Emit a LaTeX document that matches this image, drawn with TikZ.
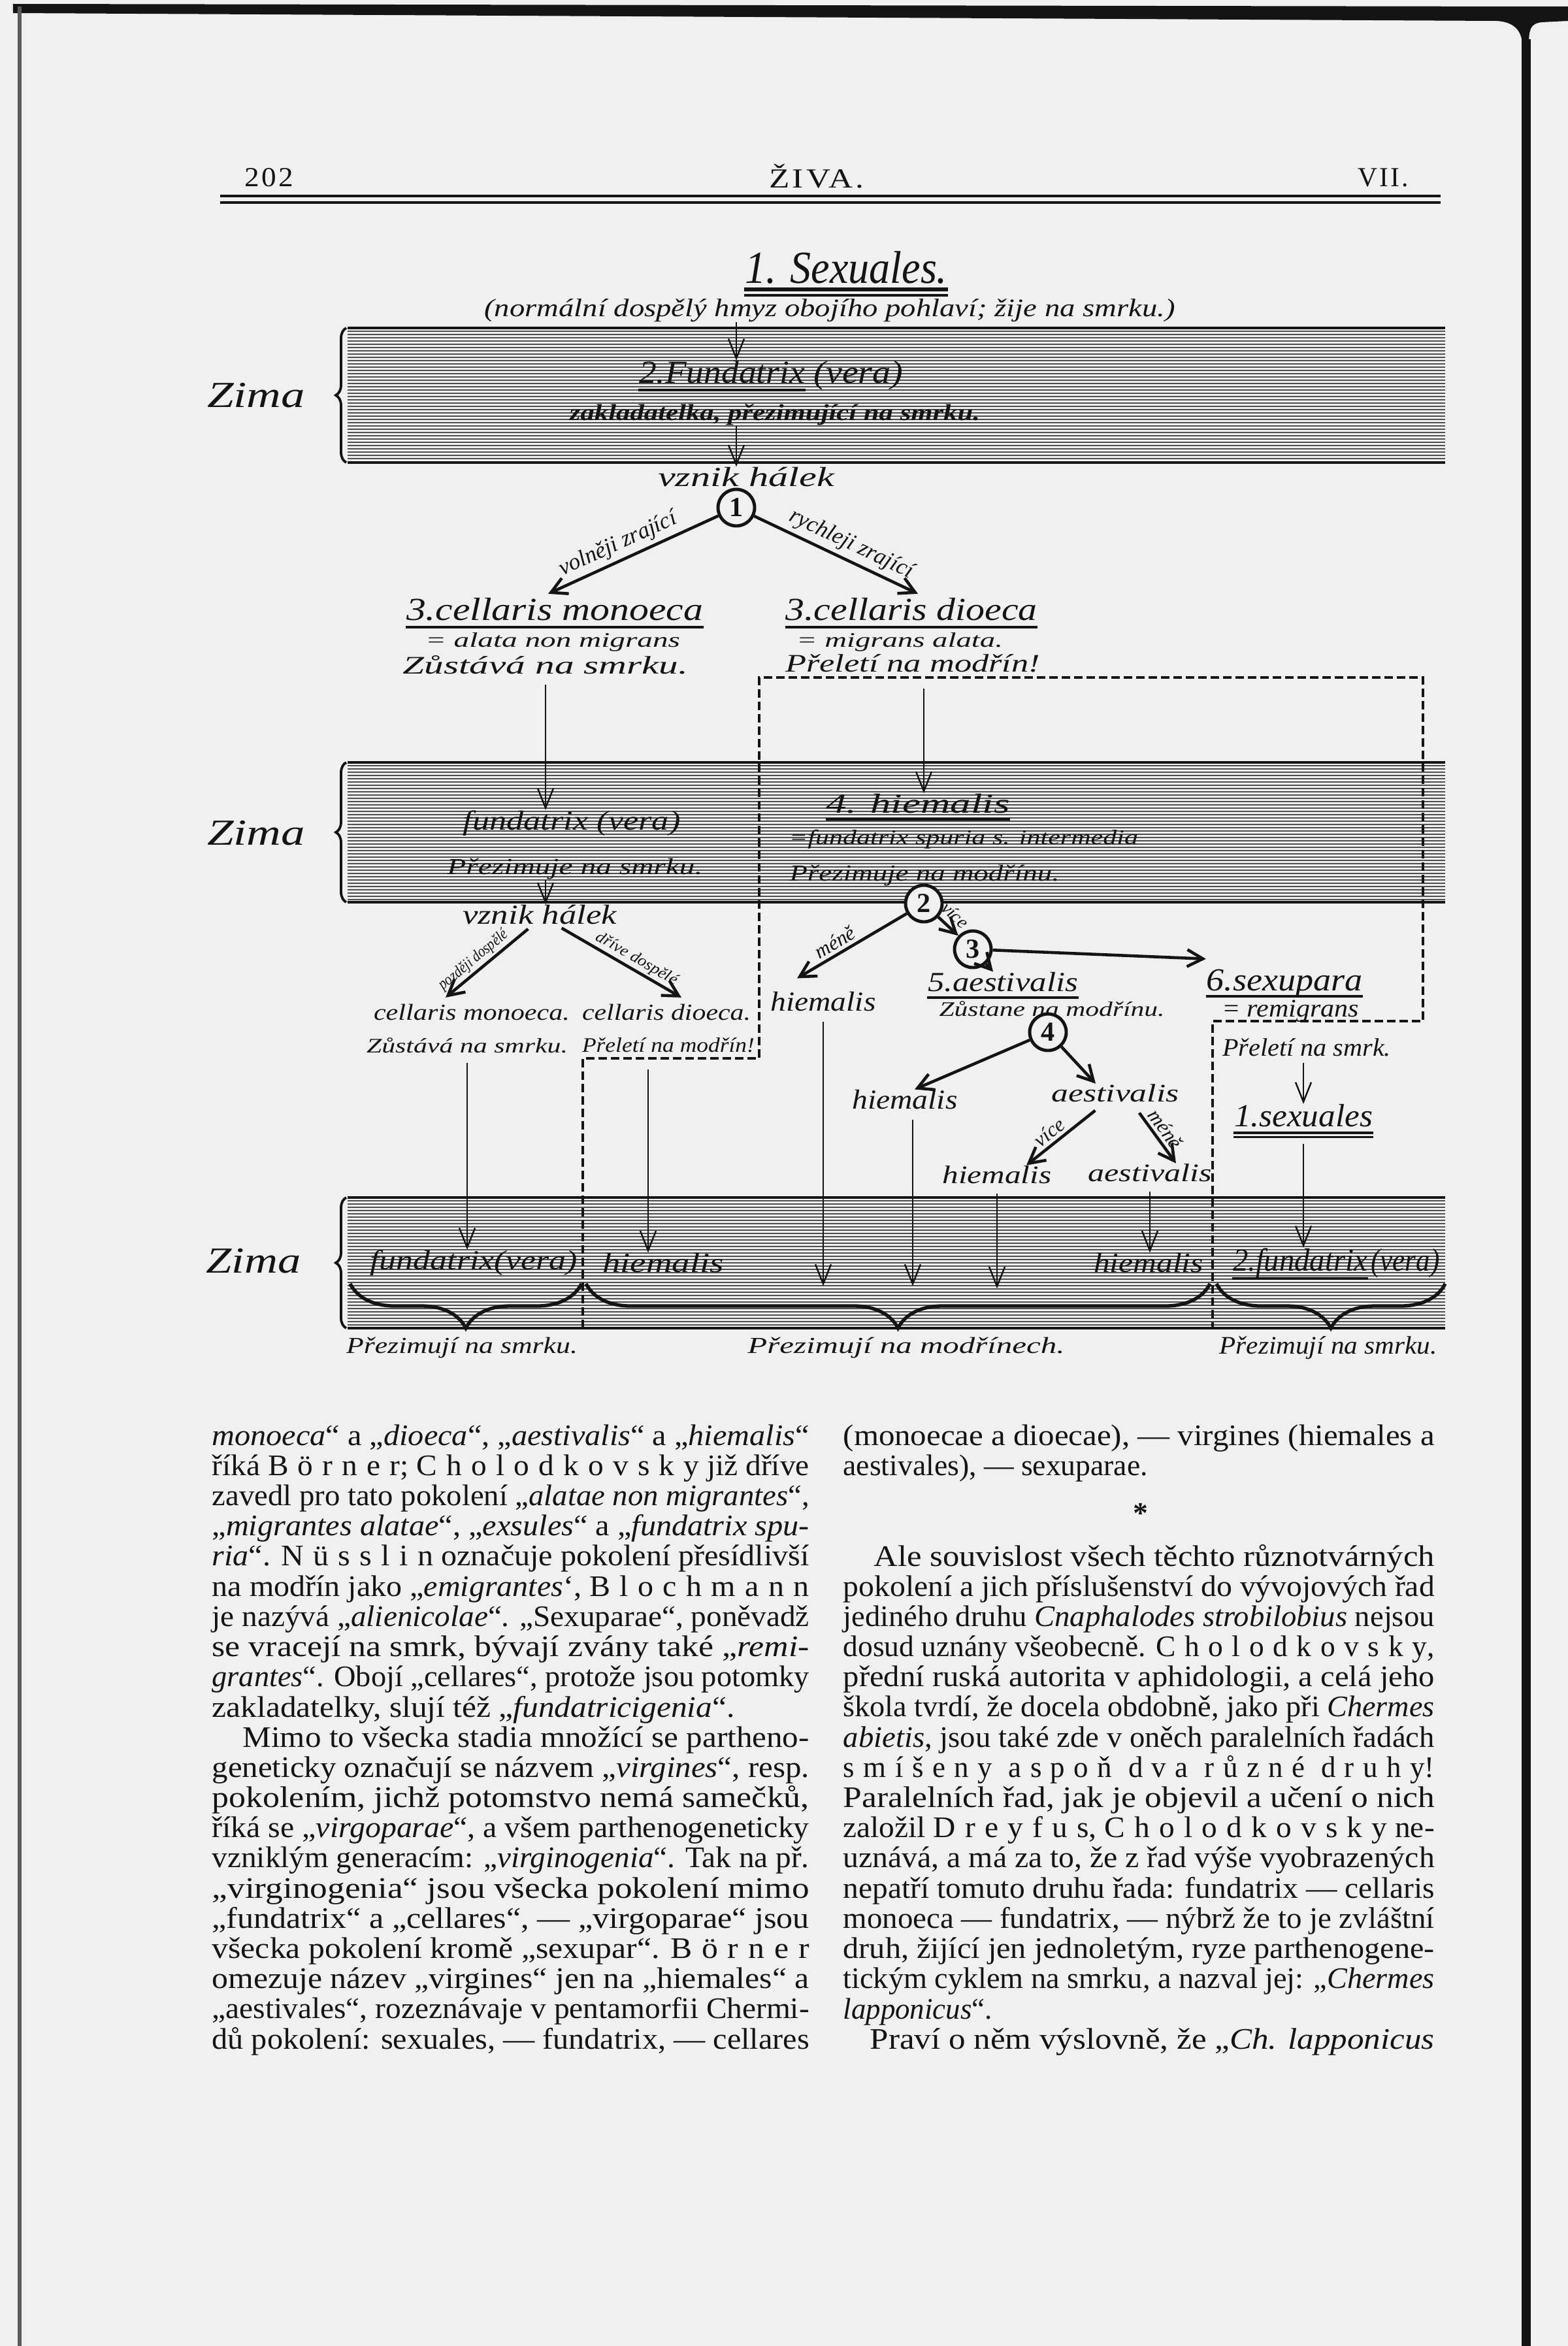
\documentclass[tikz,border=0pt]{standalone}
\usepackage{graphicx}
\usepackage{fontspec}
\setmainfont{Liberation Serif}
\newfontfamily\spaced[LetterSpace=30]{Liberation Serif}
\newfontfamily\headfont[LetterSpace=8]{Liberation Serif}
\usetikzlibrary{arrows.meta,decorations.pathreplacing,positioning}

% barvy skenu
\definecolor{paper}{gray}{0.94}
\definecolor{ink}{gray}{0.08}
% text natažený na danou šířku
\newcommand{\fitw}[2]{\resizebox{#1}{\height}{#2}}

\begin{document}
\begin{tikzpicture}[
    lbl/.style={inner sep=0pt, text=ink, font=\itshape},
    t7/.style={lbl, font=\itshape\fontsize{7}{7}\selectfont},
    t8/.style={lbl, font=\itshape\fontsize{8}{8}\selectfont},
    t9/.style={lbl, font=\itshape\fontsize{9}{9}\selectfont},
    t10/.style={lbl, font=\itshape\fontsize{10}{10}\selectfont},
    t11/.style={lbl, font=\itshape\fontsize{11}{11}\selectfont},
    t12/.style={lbl, font=\itshape\fontsize{12}{12}\selectfont},
    t14/.style={lbl, font=\itshape\fontsize{14}{14}\selectfont},
    t16/.style={lbl, font=\itshape\fontsize{16}{16}\selectfont},
    t20/.style={lbl, font=\itshape\fontsize{20}{20}\selectfont},
    arr/.style={draw=ink, line width=1.3pt, -{Straight Barb[length=2.4mm,width=2.6mm]}},
    varr/.style={draw=ink, line width=0.7pt, -{Straight Barb[length=3mm,width=2.4mm]}},
    num/.style={circle, draw=ink, fill=paper, line width=1.4pt, minimum size=5.6mm, inner sep=0pt, text=ink, font=\bfseries\fontsize{12}{12}\selectfont},
    hatch/.style={draw=ink!75, line width=0.55pt},
    border/.style={draw=ink, line width=1.3pt, dash pattern=on 1.3mm off 0.6mm},
    zbrace/.style={draw=ink, line width=1.1pt, decorate, decoration={brace, amplitude=1.6mm}},
    ubrace/.style={draw=ink, line width=1.5pt, decorate, decoration={brace, amplitude=6.8mm}},
    uline/.style={draw=ink, line width=1.2pt},
    tline/.style={anchor=base west, inner sep=0pt, text=ink, font=\fontsize{13}{15}\selectfont},
]
\useasboundingbox (0,0) rectangle (24,-35.91);

% papír a okraje skenu
\fill[paper] (0,0) rectangle (24,-35.91);
\fill[ink] (0.2,-0.06) -- (23.5,-0.10) -- (24,-0.10) -- (24,-0.32) -- (23.6,-0.34)
    .. controls (23.42,-0.36) and (23.40,-0.45) .. (23.40,-0.70) -- (23.30,-0.70)
    .. controls (23.30,-0.45) and (23.15,-0.33) .. (22.9,-0.32) -- (0.2,-0.20) -- cycle;
\draw[ink, line width=4.2pt] (23.36,-0.6) -- (23.36,-35.91);
\draw[ink!70, line width=1.5pt] (0.3,-0.1) -- (0.3,-35.91);

% záhlaví
\node[lbl, font=\headfont\fontsize{12}{12}\selectfont] (hpage) at (4.12,-2.72) {\fitw{0.75cm}{202}};
\node[lbl, font=\headfont\fontsize{12}{12}\selectfont] (hjour) at (12.5,-2.70) {\fitw{1.45cm}{ŽIVA.}};
\node[lbl, font=\headfont\fontsize{12}{12}\selectfont] (hvol) at (21.17,-2.72) {\fitw{0.78cm}{VII.}};
\draw[ink, line width=1pt] (3.37,-3.00) -- (22.05,-3.00) (3.37,-3.10) -- (22.05,-3.10);

% pásy zimy (šrafování)
\foreach \ya/\yb in {5.02/7.08, 11.67/13.81, 18.33/20.33} {
    \pgfmathtruncatemacro{\nl}{(\yb-\ya)/0.05}
    \foreach \k in {0,...,\nl}
        \draw[hatch] (5.32,-\ya-0.05*\k) -- (22.12,-\ya-0.05*\k);
    \draw[ink, line width=1pt] (5.32,-\ya) -- (22.12,-\ya) (5.32,-\yb) -- (22.12,-\yb);
    \draw[zbrace] (5.30,-\yb) -- (5.30,-\ya);
}
\node[t16] (zima1) at (3.92,-6.05) {\fitw{1.5cm}{Zima}};
\node[t16] (zima2) at (3.92,-12.75) {\fitw{1.5cm}{Zima}};
\node[t16] (zima3) at (3.88,-19.30) {\fitw{1.45cm}{Zima}};

% 1. sexuales a zakladatelka
\node[t20] (sex1) at (12.95,-4.10) {\fitw{3.1cm}{1. Sexuales.}};
\draw[uline, line width=1.6pt] ([yshift=-0.9mm]sex1.base west) -- ([yshift=-0.9mm]sex1.base east);
\draw[uline, line width=1pt] ([yshift=-1.8mm]sex1.base west) -- ([yshift=-1.8mm]sex1.base east);
\node[t11] (note) at (12.70,-4.75) {\fitw{10.57cm}{(normální dospělý hmyz obojího pohlaví; žije na smrku.)}};
\node[t14] (fund1) at (11.05,-5.70) {\fitw{2.54cm}{2.Fundatrix}};
\node[t14, base right=0.12cm of fund1] (vera1) {\fitw{1.37cm}{(vera)}};
\draw[uline] ([yshift=-1mm]fund1.base west) -- ([yshift=-1mm]fund1.base east);
\node[lbl, font=\bfseries\itshape\fontsize{10}{10}\selectfont] (zakl) at (11.86,-6.35) {\fitw{6.28cm}{zakladatelka, přezimující na smrku.}};
\node[t12] (vznik1) at (11.42,-7.30) {\fitw{2.7cm}{vznik hálek}};
\node[num] (c1) at (11.27,-7.77) {1};

% 3. cellares
\node[t14] (cm3) at (8.49,-9.33) {\fitw{4.54cm}{3.cellaris monoeca}};
\node[t9] (cm3a) at (8.46,-9.83) {\fitw{3.9cm}{= alata non migrans}};
\node[t11] (cm3b) at (8.35,-10.18) {\fitw{4.37cm}{Zůstává na smrku.}};
\node[t14] (cd3) at (13.95,-9.33) {\fitw{3.85cm}{3.cellaris dioeca}};
\node[t9] (cd3a) at (13.77,-9.83) {\fitw{3.16cm}{= migrans alata.}};
\node[t11] (cd3b) at (13.97,-10.15) {\fitw{3.9cm}{Přeletí na modřín!}};
\draw[uline] ([yshift=-1mm]cm3.base west) -- ([yshift=-1mm]cm3.base east);
\draw[uline] ([yshift=-1mm]cd3.base west) -- ([yshift=-1mm]cd3.base east);

% druhá zima
\node[t12] (fv2) at (8.75,-12.60) {\fitw{3.33cm}{fundatrix (vera)}};
\node[t10] (fv2b) at (8.80,-13.30) {\fitw{3.91cm}{Přezimuje na smrku.}};
\node[t12] (h4) at (14.05,-12.30) {\fitw{2.81cm}{4. hiemalis}};
\draw[uline] ([yshift=-1mm]h4.base west) -- ([yshift=-1mm]h4.base east);
\node[t9] (h4a) at (14.75,-12.85) {\fitw{5.34cm}{=fundatrix spuria s. intermedia}};
\node[t10] (h4b) at (14.15,-13.40) {\fitw{4.13cm}{Přezimuje na modřínu.}};
\node[t12] (vznik2) at (8.26,-14.00) {\fitw{2.36cm}{vznik hálek}};
\node[num] (c2) at (14.14,-13.83) {2};

% léto na smrku a modřínu
\node[t10] (cm) at (7.22,-15.50) {\fitw{3.0cm}{cellaris monoeca.}};
\node[t10] (cd) at (10.20,-15.50) {\fitw{2.58cm}{cellaris dioeca.}};
\node[t9] (cmb) at (7.15,-16.00) {\fitw{3.08cm}{Zůstává na smrku.}};
\node[t9] (cdb) at (10.23,-16.00) {\fitw{2.64cm}{Přeletí na modřín!}};
\node[t12] (hiA) at (12.60,-15.33) {\fitw{1.61cm}{hiemalis}};
\node[num] (c3) at (14.89,-14.53) {3};
\node[t12] (ae5) at (15.35,-15.03) {\fitw{2.30cm}{5.aestivalis}};
\draw[uline] ([yshift=-1mm]ae5.base west) -- ([yshift=-1mm]ae5.base east);
\node[t9] (ae5b) at (16.10,-15.44) {\fitw{3.45cm}{Zůstane na modřínu.}};
\node[t14] (sx6) at (19.66,-15.05) {\fitw{2.39cm}{6.sexupara}};
\draw[uline] ([yshift=-0.9mm]sx6.base west) -- ([yshift=-0.9mm]sx6.base east);
\node[t11] (sx6b) at (19.75,-15.48) {\fitw{2.10cm}{= remigrans}};
\node[num] (c4) at (16.04,-15.80) {4};
\node[t12] (hiB) at (13.85,-16.83) {\fitw{1.61cm}{hiemalis}};
\node[t11] (aeB) at (17.07,-16.73) {\fitw{1.95cm}{aestivalis}};
\node[t11] (hiC) at (15.26,-17.98) {\fitw{1.67cm}{hiemalis}};
\node[t11] (aeC) at (17.60,-17.95) {\fitw{1.89cm}{aestivalis}};
\node[t11] (sm) at (20.00,-16.03) {\fitw{2.58cm}{Přeletí na smrk.}};
\node[t14] (sx1) at (19.95,-17.08) {\fitw{2.12cm}{1.sexuales}};
\draw[uline] ([yshift=-0.9mm]sx1.base west) -- ([yshift=-0.9mm]sx1.base east);
\draw[uline, line width=0.8pt] ([yshift=-1.6mm]sx1.base west) -- ([yshift=-1.6mm]sx1.base east);

% třetí zima
\node[t12] (fv3) at (7.25,-19.33) {\fitw{3.17cm}{fundatrix(vera)}};
\node[t12] (hi3a) at (10.15,-19.33) {\fitw{1.86cm}{hiemalis}};
\node[t12] (hi3b) at (17.58,-19.33) {\fitw{1.68cm}{hiemalis}};
\node[t14] (f3a) at (19.90,-19.33) {\fitw{2.06cm}{2.fundatrix}};
\node[t14, base right=0.04cm of f3a] (f3b) {\fitw{1.05cm}{(vera)}};
\draw[uline] ([yshift=-1.2mm]f3a.base west) -- ([yshift=-1.2mm]f3a.base east);
\node[t10] (pz1) at (7.07,-20.63) {\fitw{3.54cm}{Přezimují na smrku.}};
\node[t10] (pz2) at (13.87,-20.63) {\fitw{4.85cm}{Přezimují na modřínech.}};
\node[t11] (pz3) at (20.33,-20.63) {\fitw{3.33cm}{Přezimují na smrku.}};
\draw[ubrace] (8.90,-19.65) -- (5.36,-19.65);
\draw[ubrace] (18.52,-19.65) -- (8.97,-19.65);
\draw[ubrace] (22.12,-19.65) -- (18.62,-19.65);

% hranice smrk / modřín
\draw[border] (8.92,-20.33) -- (8.92,-16.20) -- (11.62,-16.20) -- (11.62,-10.37)
    -- (21.78,-10.37) -- (21.78,-15.63) -- (18.56,-15.63) -- (18.56,-20.33);

% šipky
\draw[varr] (note.south -| c1) -- (fund1.north -| c1);
\draw[varr] (zakl.south -| c1) -- (vznik1.north -| c1);
\draw[arr] (c1) -- node[sloped, above=0.6mm, pos=0.55, t10] {volněji zrající} ([xshift=-0.1cm,yshift=0.6mm]cm3.north);
\draw[arr] (c1) -- node[sloped, above=0.6mm, pos=0.55, t10] {rychleji zrající} ([xshift=0.1cm,yshift=0.6mm]cd3.north);
\draw[varr, shorten <=1.5mm] (cm3b.south) -- (cm3b.south |- fv2.north);
\draw[varr, shorten <=2.5mm] (cd3b.south -| c2) -- (h4.north -| c2);
\draw[varr] (fv2b.south -| cm3b) -- (vznik2.north -| cm3b);
\draw[arr, shorten <=1mm] ([xshift=-0.1cm]vznik2.south) -- node[sloped, above=0.3mm, pos=0.6, t7] {\fitw{1.3cm}{později dospělé}} ([xshift=-0.4cm,yshift=1mm]cm.north);
\draw[arr, shorten <=1mm] ([xshift=0.25cm]vznik2.south) -- node[sloped, above=0.3mm, pos=0.6, t7] {\fitw{1.4cm}{dříve dospělé}} ([xshift=0.23cm,yshift=1mm]cd.north);
\draw[varr, shorten <=1.5mm] (cmb.south) -- (cmb.south |- fv3.north);
\draw[varr, shorten <=2.5mm] ([xshift=-0.31cm]cdb.south) -- ([xshift=-0.31cm]cdb.south |- hi3a.north);
\draw[arr] (c2) -- node[sloped, above=0.5mm, pos=0.6, t9] {méně} ([xshift=-0.4cm,yshift=2mm]hiA.north);
\draw[arr] (c2) -- node[sloped, above=0.8mm, pos=0.4, t8] {více} (c3);
\draw[arr] (c3) -- ([yshift=1.5mm]sx6.north west);
\draw[arr] (c3) -- ([xshift=-0.15cm]ae5.north);
\draw[arr] (c4) -- ([xshift=0.15cm]hiB.north);
\draw[arr] (c4) -- ([xshift=-0.3cm]aeB.north);
\draw[arr, shorten <=2mm] ([xshift=-0.15cm]aeB.south) -- node[sloped, above=0.5mm, pos=0.62, t9] {více} ([xshift=0.45cm]hiC.north);
\draw[arr, shorten <=2mm] ([xshift=0.25cm]aeB.south) -- node[sloped, above=0.5mm, pos=0.55, t9] {méně} ([xshift=0.4cm]aeC.north);
\draw[varr, shorten <=1.5mm] (hiA.south) -- ++(0,-4.2);
\draw[varr, shorten <=1.5mm] ([xshift=0.12cm]hiB.south) -- ++(0,-2.7);
\draw[varr, shorten <=1.5mm] (hiC.south) -- ++(0,-1.6);
\draw[varr, shorten <=1.5mm] (aeC.south) -- (aeC.south |- hi3b.north);
\draw[varr, shorten <=1mm] (sm.south -| sx1) -- (sx1.north);
\draw[varr, shorten <=2.5mm] (sx1.south) -- (sx1.south |- f3a.north);

% text pod obrazcem, levý sloupec
\foreach \k/\txt in {
    0/{\textit{monoeca}“ a „\textit{dioeca}“, „\textit{aestivalis}“ a „\textit{hiemalis}“},
    1/{říká {\spaced Börner}; {\spaced Cholodkovsky} již dříve},
    2/{zavedl pro tato pokolení „\textit{alatae non migrantes}“,},
    3/{„\textit{migrantes alatae}“, „\textit{exsules}“ a „\textit{fundatrix spu-}},
    4/{\textit{ria}“. {\spaced Nüsslin} označuje pokolení přesídlivší},
    5/{na modřín jako „\textit{emigrantes}‘, {\spaced Blochmann}},
    6/{je nazývá „\textit{alienicolae}“. „Sexuparae“, poněvadž},
    7/{se vracejí na smrk, bývají zvány také „\textit{remi-}},
    8/{\textit{grantes}“. Obojí „cellares“, protože jsou potomky},
    11/{geneticky označují se názvem „\textit{virgines}“, resp.},
    12/{pokolením, jichž potomstvo nemá samečků,},
    13/{říká se „\textit{virgoparae}“, a všem parthenogeneticky},
    14/{vzniklým generacím: „\textit{virginogenia}“. Tak na př.},
    15/{„virginogenia“ jsou všecka pokolení mimo},
    16/{„fundatrix“ a „cellares“, — „virgoparae“ jsou},
    17/{všecka pokolení kromě „sexupar“. {\spaced Börner}},
    18/{omezuje název „virgines“ jen na „hiemales“ a},
    19/{„aestivales“, rozeznávaje v pentamorfii Chermi-},
    20/{dů pokolení: sexuales, — fundatrix, — cellares}}
    \node[tline] (L\k) at (3.24,-22.12-0.462*\k) {\fitw{9.14cm}{\txt}};
\node[tline] (L9) at (3.24,-26.28) {\fitw{8.0cm}{zakladatelky, slují též „\textit{fundatricigenia}“.}};
\node[tline] (L10) at (3.71,-26.74) {\fitw{8.67cm}{Mimo to všecka stadia množící se partheno-}};

% pravý sloupec
\foreach \k/\txt in {
    0/{(monoecae a dioecae), — virgines (hiemales a},
    5/{pokolení a jich příslušenství do vývojových řad},
    6/{jediného druhu \textit{Cnaphalodes strobilobius} nejsou},
    7/{dosud uznány všeobecně. {\spaced Cholodkovsky},},
    8/{přední ruská autorita v aphidologii, a celá jeho},
    9/{škola tvrdí, že docela obdobně, jako při \textit{Chermes}},
    10/{\textit{abietis}, jsou také zde v oněch paralelních řadách},
    11/{{\spaced smíšeny aspoň dva různé druhy}!},
    12/{Paralelních řad, jak je objevil a učení o nich},
    13/{založil {\spaced Dreyfus}, {\spaced Cholodkovsky} ne-},
    14/{uznává, a má za to, že z řad výše vyobrazených},
    15/{nepatří tomuto druhu řada: fundatrix — cellaris},
    16/{monoeca — fundatrix, — nýbrž že to je zvláštní},
    17/{druh, žijící jen jednoletým, ryze parthenogene-},
    18/{tickým cyklem na smrku, a nazval jej: „\textit{Chermes}}}
    \node[tline] (R\k) at (12.90,-22.12-0.462*\k) {\fitw{9.05cm}{\txt}};
\node[tline] (R1) at (12.90,-22.58) {\fitw{4.66cm}{aestivales), — sexuparae.}};
\node[tline, anchor=center, font=\bfseries\fontsize{13}{13}\selectfont] (star) at (17.46,-23.16) {*};
\node[tline] (R4) at (13.37,-23.97) {\fitw{8.58cm}{Ale souvislost všech těchto různotvárných}};
\node[tline] (R19) at (12.90,-30.90) {\fitw{2.28cm}{\textit{lapponicus}“.}};
\node[tline] (R20) at (13.31,-31.36) {\fitw{8.64cm}{Praví o něm výslovně, že „\textit{Ch. lapponicus}}};
\end{tikzpicture}
\end{document}
